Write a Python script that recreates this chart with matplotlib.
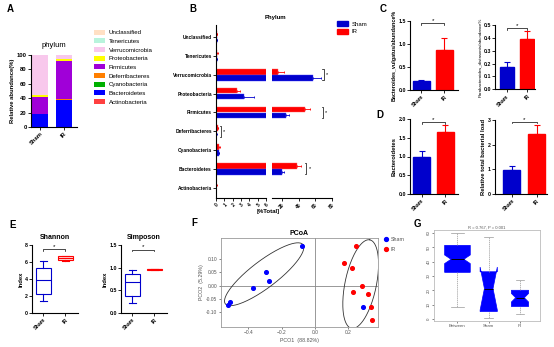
import matplotlib
matplotlib.use('Agg')
import matplotlib.pyplot as plt
import numpy as np
from matplotlib.patches import Patch
from matplotlib.lines import Line2D

plt.rcParams['font.family'] = ['Liberation Sans', 'DejaVu Sans']

# ---- data ----
# A: stacked phylum composition (bottom -> top)
phyla = ['Actinobacteria', 'Bacteroidetes', 'Cyanobacteria', 'Deferribacteres', 'Firmicutes',
         'Proteobacteria', 'Verrucomicrobia', 'Tenericutes', 'Unclassified']
phyla_colors = ['#FF4040', '#0000FF', '#00B000', '#FF7F00', '#A000D8',
                '#FFFF00', '#F8C8EC', '#B8F4DC', '#FFE0C4']
groups = ['Sham', 'IR']
a_sham = [0.05, 17.5, 0.3, 0.1, 24.0, 3.0, 54.7, 0.15, 0.2]
a_ir = [0.05, 37.5, 0.5, 0.2, 54.0, 2.3, 5.2, 0.1, 0.15]

# B: phylum % total (top -> bottom)
b_phyla = ['Unclassified', 'Tenericutes', 'Verrucomicrobia', 'Proteobacteria', 'Firmicutes',
           'Deferribacteres', 'Cyanobacteria', 'Bacteroidetes', 'Actinobacteria']
b_sham = [0.08, 0.1, 57.2, 3.3, 25.2, 0.05, 0.3, 20.0, 0.03]
b_sham_err = [0.02, 0.03, 9.6, 1.3, 4.0, 0.02, 0.1, 2.8, 0.01]
b_ir = [0.12, 0.15, 15.2, 2.5, 48.0, 0.2, 0.4, 38.0, 0.05]
b_ir_err = [0.03, 0.03, 7.6, 0.4, 6.0, 0.06, 0.08, 5.2, 0.02]
b_sig = ['Verrucomicrobia', 'Firmicutes', 'Deferribacteres', 'Bacteroidetes']
b_sig_x = [70, 69, 0.55, 49]

# C / D bar panels
c1_vals, c1_err = [0.19, 0.87], [0.03, 0.25]
c2_vals, c2_err = [0.17, 0.39], [0.04, 0.065]
d1_vals, d1_err = [1.0, 1.66], [0.14, 0.19]
d2_vals, d2_err = [0.98, 2.43], [0.16, 0.38]

# E: box stats (whislo, q1, med, q3, whishi)
shannon_sham = [1.45, 2.23, 3.83, 5.27, 6.17]
shannon_ir = [6.13, 6.25, 6.45, 6.7, 6.76]
simpson_sham = [0.23, 0.37, 0.68, 0.86, 0.95]
simpson_ir = [0.94, 0.95, 0.96, 0.97, 0.98]

# F: PCoA
sham_x = [-0.08, -0.296, -0.276, -0.372, -0.51, -0.522, 0.29]
sham_y = [0.15, 0.05, 0.0175, -0.009, -0.061, -0.0725, -0.081]
ir_x = [0.246, 0.176, 0.22, 0.282, 0.228, 0.32, 0.334, 0.344]
ir_y = [0.149, 0.084, 0.0675, 0.0, -0.025, -0.03, -0.08, -0.13]
# ellipses: centre, half major vector, half minor vector (data units)
sham_ell = [(-0.305, 0.043), (0.233, 0.111), (0.0485, -0.040)]
ir_ell = [(0.274, 0.006), (0.055, 0.166), (0.092, -0.012)]

# G: ANOSIM box stats
g_labels = ['Between', 'Sham', 'IR']
g_whislo = [8.7, 0.7, 3.5]
g_q1 = [32.5, 5.2, 8.7]
g_med = [41.6, 21.2, 14.8]
g_q3 = [51.3, 32.9, 20.0]
g_whishi = [60.0, 57.2, 27.0]
g_notch = [3.0, 15.0, 3.0]

BLUE = '#0000CC'
RED = '#FF0000'

W, H = 554, 347
fig = plt.figure(figsize=(W / 100, H / 100), dpi=100)


def box(x0, y0, x1, y1):
    return fig.add_axes([x0 / W, 1 - y1 / H, (x1 - x0) / W, (y1 - y0) / H])


def prism(ax, fs=4.2):
    for s in ['top', 'right']:
        ax.spines[s].set_visible(False)
    for s in ['left', 'bottom']:
        ax.spines[s].set_linewidth(0.8)
    ax.tick_params(direction='out', length=2, width=0.6, labelsize=fs, pad=1)
    for lab in ax.get_xticklabels() + ax.get_yticklabels():
        lab.set_fontweight('bold')


def panel_label(x, y, s):
    fig.text(x / W, 1 - y / H, s, fontsize=7, fontweight='bold', ha='center', va='center')


def sig_bracket(ax, y, drop, x0=0, x1=1):
    ax.plot([x0, x0, x1, x1], [y - drop, y, y, y - drop], color='k', lw=0.5, clip_on=False)
    ax.text((x0 + x1) / 2, y, '*', ha='center', va='bottom', fontsize=4.5)


# ---- A ----
ax_a = box(31, 55, 77, 127)
bottom = np.zeros(2)
for name, col, s, r in zip(phyla, phyla_colors, a_sham, a_ir):
    ax_a.bar([0, 1], [s, r], width=0.7, bottom=bottom, color=col, label=name)
    bottom += np.array([s, r])
ax_a.set_xlim(-0.375, 1.54)
ax_a.set_ylim(0, 100)
ax_a.set_yticks([0, 20, 40, 60, 80, 100])
ax_a.set_xticks([0, 1])
ax_a.set_xticklabels(groups, rotation=45, ha='right', rotation_mode='anchor')
ax_a.set_ylabel('Relative abundance(%)', fontsize=4.2, fontweight='bold', labelpad=1)
ax_a.set_title('phylum', fontsize=5.5, pad=6)
prism(ax_a)
h, l = ax_a.get_legend_handles_labels()
fig.legend(h[::-1], l[::-1], loc='upper left', bbox_to_anchor=(94 / W, 1 - 29.5 / H),
           frameon=False, fontsize=4.4, handlelength=1.8, handleheight=0.9,
           labelspacing=0.5, handletextpad=0.6, borderaxespad=0, borderpad=0)
panel_label(10, 9, 'A')

# ---- B ----
b1 = box(216, 25, 266, 198)
b2 = box(271.7, 25, 332, 198)
y = np.arange(len(b_phyla))
for ax in (b1, b2):
    ax.barh(y - 0.16, b_ir, height=0.3, color=RED, edgecolor='#FF6060', lw=0.3,
            xerr=[np.zeros(len(b_ir)), b_ir_err],
            error_kw=dict(ecolor=RED, elinewidth=0.6, capsize=1, capthick=0.6))
    ax.barh(y + 0.16, b_sham, height=0.3, color=BLUE, edgecolor='#4040FF', lw=0.3,
            xerr=[np.zeros(len(b_sham)), b_sham_err],
            error_kw=dict(ecolor=BLUE, elinewidth=0.6, capsize=1, capthick=0.6))
    ax.set_ylim(8.55, -0.65)
b1.set_xlim(0, 6)
b2.set_xlim(8, 80)
b1.set_xticks(range(7))
b2.set_xticks([20, 40, 60, 80])
b1.set_yticks(y)
b1.set_yticklabels(b_phyla)
b2.set_yticks([])
for ax in (b1, b2):
    for lab in ax.get_xticklabels():
        lab.set_rotation(45)
        lab.set_ha('right')
        lab.set_rotation_mode('anchor')
prism(b1, fs=3.5)
prism(b2, fs=3.5)
b2.spines['left'].set_visible(False)
for name, xs in zip(b_sig, b_sig_x):
    i = b_phyla.index(name)
    ax = b1 if xs < 6 else b2
    d = 0.12 if ax is b1 else 1.5
    ax.plot([xs - d, xs, xs, xs - d], [i - 0.3, i - 0.3, i + 0.3, i + 0.3],
            color='k', lw=0.5, clip_on=False)
    ax.text(xs + 2 * d, i, '*', fontsize=4, va='center', clip_on=False)
fig.text(268 / W, 1 - 212 / H, '[%Total]', ha='center', va='center', fontsize=4.3, fontweight='bold')
fig.text(275 / W, 1 - 17 / H, 'Phylum', ha='center', va='center', fontsize=4.3, fontweight='bold')
fig.legend(handles=[Patch(color=BLUE, label='Sham'), Patch(color=RED, label='IR')],
           loc='upper left', bbox_to_anchor=(337 / W, 1 - 21 / H), frameon=False,
           fontsize=4.3, handlelength=1.8, handleheight=0.9, labelspacing=0.4,
           handletextpad=0.6, borderaxespad=0, borderpad=0)
panel_label(193, 9, 'B')


# ---- C / D ----
def bar_panel(ax, vals, errs, width, xlim, ylim, yticks, ytl, ylabel, sig_y, ylfs, ylw='bold'):
    for i, col in enumerate([BLUE, RED]):
        ax.bar([i], [vals[i]], width=width, color=col, edgecolor=col,
               yerr=[[0], [errs[i]]], ecolor=col,
               error_kw=dict(elinewidth=0.8, capsize=2.5, capthick=0.8))
    ax.set_xlim(*xlim)
    ax.set_ylim(*ylim)
    ax.set_yticks(yticks)
    ax.set_yticklabels(ytl)
    ax.set_xticks([0, 1])
    ax.set_xticklabels(groups, rotation=45, ha='right', rotation_mode='anchor')
    ax.set_ylabel(ylabel, fontsize=ylfs, fontweight=ylw, labelpad=1)
    prism(ax, fs=3.8)
    sig_bracket(ax, sig_y, (ylim[1] - ylim[0]) * 0.02)


ax_c1 = box(410, 20.7, 458, 90)
bar_panel(ax_c1, c1_vals, c1_err, 0.74, (-0.5, 1.59), (0, 1.5), [0, 0.5, 1.0, 1.5],
          ['0.0', '0.5', '1.0', '1.5'], 'Bacteroides_vulgatus/abundance%', 1.44, 3.9)
ax_c2 = box(495, 25, 535, 89.3)
bar_panel(ax_c2, c2_vals, c2_err, 0.67, (-0.57, 1.38), (0, 0.5), [0, 0.1, 0.2, 0.3, 0.4, 0.5],
          ['0.0', '0.1', '0.2', '0.3', '0.4', '0.5'], 'Parabacteroides_distasonis/abundance%',
          0.475, 3.2, 'normal')
ax_d1 = box(410, 119, 458, 194)
bar_panel(ax_d1, d1_vals, d1_err, 0.72, (-0.5, 1.55), (0, 2.0), [0, 0.5, 1.0, 1.5, 2.0],
          ['0.0', '0.5', '1.0', '1.5', '2.0'], 'Bacteroidetes', 1.92, 4.2)
ax_d2 = box(495, 120, 547, 194)
bar_panel(ax_d2, d2_vals, d2_err, 0.68, (-0.67, 1.41), (0, 3), [0, 1, 2, 3],
          ['0', '1', '2', '3'], 'Relative total bacterial load', 2.93, 4.2)
panel_label(383, 9, 'C')
panel_label(380, 115, 'D')


# ---- E ----
def stats_of(v, label):
    return dict(whislo=v[0], q1=v[1], med=v[2], q3=v[3], whishi=v[4], fliers=[], label=label)


def e_panel(ax, sham, ir, ylim, yticks, ytl, title, sig_y):
    st = [stats_of(sham, 'Sham'), stats_of(ir, 'IR')]
    bp = ax.bxp(st, positions=[0, 1], widths=0.68, patch_artist=True, showfliers=False)
    for i, col, fc in [(0, BLUE, 'white'), (1, RED, '#FFE0E0')]:
        bp['boxes'][i].set(facecolor=fc, edgecolor=col, lw=0.8)
        bp['medians'][i].set(color=col, lw=0.8)
        for k in (2 * i, 2 * i + 1):
            bp['whiskers'][k].set(color=col, lw=0.8)
            bp['caps'][k].set(color=col, lw=0.8)
    ax.set_xlim(-0.52, 1.57)
    ax.set_ylim(*ylim)
    ax.set_yticks(yticks)
    ax.set_yticklabels(ytl)
    ax.set_xticks([0, 1])
    ax.set_xticklabels(groups, rotation=45, ha='right', rotation_mode='anchor')
    ax.set_ylabel('Index', fontsize=4.2, fontweight='bold', labelpad=1)
    ax.set_title(title, fontsize=5, fontweight='bold', pad=4)
    prism(ax, fs=3.8)
    sig_bracket(ax, sig_y, (ylim[1] - ylim[0]) * 0.02)


ax_e1 = box(32, 245, 78, 313)
e_panel(ax_e1, shannon_sham, shannon_ir, (0, 8), [0, 2, 4, 6, 8], ['0', '2', '4', '6', '8'],
        'Shannon', 7.5)
ax_e2 = box(121, 245, 167, 313)
e_panel(ax_e2, simpson_sham, simpson_ir, (0, 1.5), [0, 0.5, 1.0, 1.5],
        ['0.0', '0.5', '1.0', '1.5'], 'Simposon', 1.40)
panel_label(13, 225, 'E')

# ---- F ----
ax_f = box(221, 238, 378, 327)
ax_f.axhline(0, color='#888888', lw=0.6, zorder=0)
ax_f.axvline(0, color='#888888', lw=0.6, zorder=0)
t = np.linspace(0, 2 * np.pi, 200)
for (c, v1, v2) in (sham_ell, ir_ell):
    ax_f.plot(c[0] + np.cos(t) * v1[0] + np.sin(t) * v2[0],
              c[1] + np.cos(t) * v1[1] + np.sin(t) * v2[1], color='#333333', lw=0.6)
ax_f.scatter(sham_x, sham_y, s=7, color='#0000FF', zorder=3)
ax_f.scatter(ir_x, ir_y, s=7, color='#FF0000', zorder=3)
ax_f.set_xlim(-0.564, 0.378)
ax_f.set_ylim(-0.155, 0.179)
ax_f.set_xticks([-0.4, -0.2, 0.0, 0.2])
ax_f.set_yticks([-0.10, -0.05, 0.0, 0.05, 0.10])
ax_f.set_yticklabels(['-0.10', '-0.05', '0.00', '0.05', '0.10'])
for s in ax_f.spines.values():
    s.set_color('#999999')
    s.set_linewidth(0.6)
ax_f.tick_params(labelsize=3.5, length=1.5, width=0.5, pad=1, colors='#555555')
ax_f.set_xlabel('PCO1  (88.82%)', fontsize=3.8, color='#555555', labelpad=2)
ax_f.set_ylabel('PCO2  (5.29%)', fontsize=3.8, color='#555555', labelpad=2)
ax_f.set_title('PCoA', fontsize=5, fontweight='bold', pad=2)
fig.legend(handles=[Line2D([], [], ls='', marker='o', ms=2.8, color='#0000FF', label='Sham'),
                    Line2D([], [], ls='', marker='o', ms=2.8, color='#FF0000', label='IR')],
           loc='upper left', bbox_to_anchor=(384 / W, 1 - 237 / H), frameon=False,
           fontsize=3.8, handlelength=0.8, handletextpad=0.4, labelspacing=0.9,
           borderaxespad=0, borderpad=0, labelcolor='#555555')
panel_label(194, 223, 'F')

# ---- G ----
ax_g = box(434, 230, 540, 321)
g_stats = []
for i in range(3):
    g_stats.append(dict(whislo=g_whislo[i], q1=g_q1[i], med=g_med[i], q3=g_q3[i],
                        whishi=g_whishi[i], cilo=g_med[i] - g_notch[i],
                        cihi=g_med[i] + g_notch[i], fliers=[], label=g_labels[i]))
bp = ax_g.bxp(g_stats, positions=[1, 2, 3], widths=[0.82, 0.55, 0.55], shownotches=True,
              patch_artist=True, showfliers=False,
              boxprops=dict(facecolor='#0000FF', edgecolor='#0000FF', lw=0.5),
              whiskerprops=dict(color='#999999', ls=(0, (2, 1)), lw=0.5),
              capprops=dict(color='#999999', lw=0.5),
              medianprops=dict(color='black', lw=0.7))
ax_g.set_xlim(0.25, 3.64)
ax_g.set_ylim(-1.4, 62)
ax_g.set_yticks([0, 10, 20, 30, 40, 50, 60])
for s in ax_g.spines.values():
    s.set_color('#BBBBBB')
    s.set_linewidth(0.6)
ax_g.tick_params(labelsize=3.2, length=1.5, width=0.5, pad=1, colors='#555555')
plt.setp(ax_g.get_yticklabels(), rotation=90, va='center')
ax_g.set_title('R = 0.767, P = 0.001', fontsize=3, color='#555555', pad=1)
panel_label(417, 224, 'G')

fig.savefig('out.png', dpi=100)
